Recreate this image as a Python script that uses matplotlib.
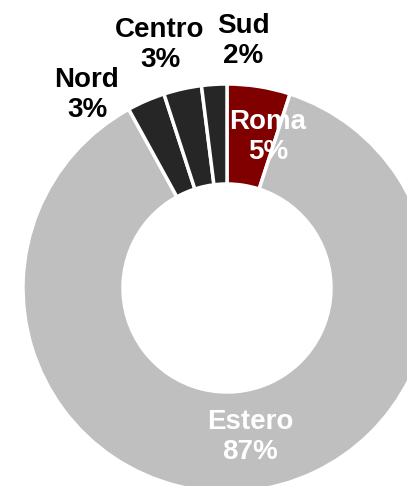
import matplotlib
matplotlib.use("Agg")
import matplotlib.pyplot as plt

categories = ["Roma", "Estero", "Nord", "Centro", "Sud"]
values = [5, 87, 3, 3, 2]
pct_labels = ["5%", "87%", "3%", "3%", "2%"]
colors = ["#800000", "#BFBFBF", "#262626", "#262626", "#262626"]
text_colors = ["white", "white", "black", "black", "black"]
# label centres in pixel coordinates (x from left, y from top)
label_pos = [(268, 137), (250, 437), (87, 95), (160, 45), (243, 41)]

W, H = 407, 486
fig = plt.figure(figsize=(W / 100, H / 100), dpi=100)
ax = fig.add_axes([0, 0, 1, 1])

cx, cy = 227, H - 288
ax.pie(values, colors=colors, startangle=90, counterclock=False,
       radius=204, center=(cx, cy),
       wedgeprops=dict(width=100, edgecolor="white", linewidth=2.5))
ax.set_xlim(0, W)
ax.set_ylim(0, H)
ax.set_aspect("equal")
ax.axis("off")

for cat, pct, col, (px, py) in zip(categories, pct_labels, text_colors, label_pos):
    ax.text(px, H - py, f"{cat}\n{pct}", ha="center", va="center",
            fontsize=20, fontweight="bold", color=col,
            family=["Liberation Sans", "DejaVu Sans"], linespacing=1.18)

fig.savefig("out.png", dpi=100)
